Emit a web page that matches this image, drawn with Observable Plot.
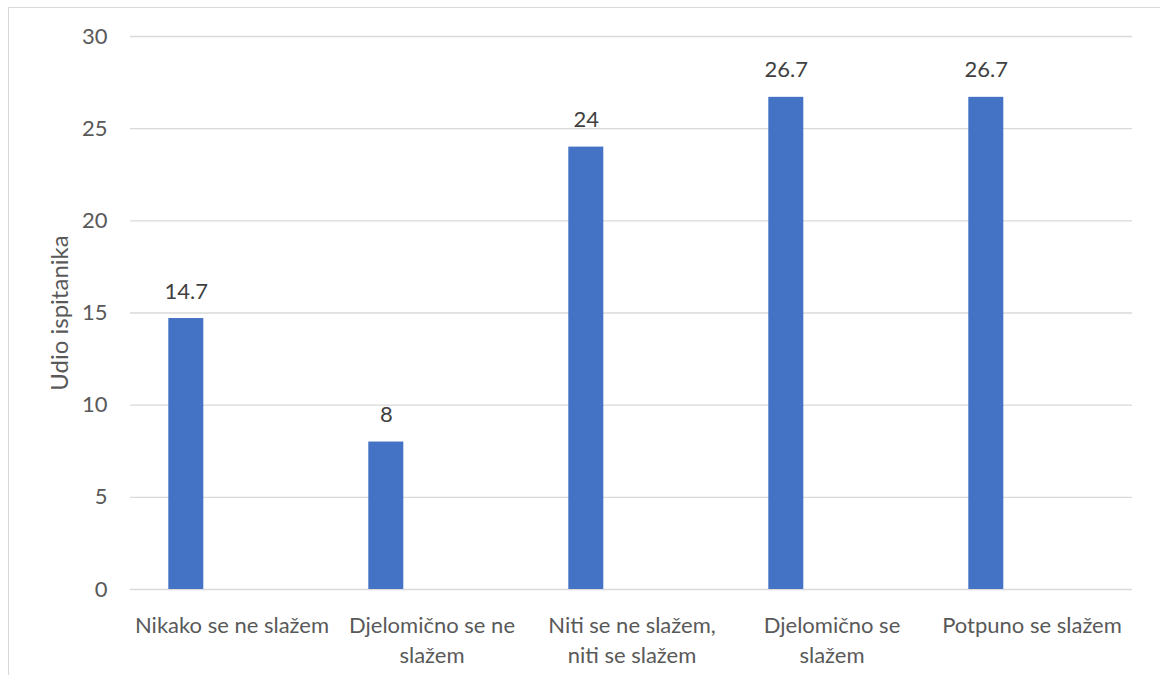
<!DOCTYPE html>
<html>
<head>
<meta charset="utf-8">
<script src="https://cdn.jsdelivr.net/npm/d3@7"></script>
<script src="https://cdn.jsdelivr.net/npm/@observablehq/plot@0.6"></script>
<style>
  html, body { margin: 0; padding: 0; background: #fff; }
  #wrap { position: relative; width: 1160px; height: 675px; overflow: hidden; }
  #frame { position: absolute; left: 8px; top: 7px; width: 1200px; height: 720px; border: 1.5px solid #d9d9d9; box-sizing: border-box; }
  #chart { position: absolute; left: 0; top: 0; }
</style>
</head>
<body>
<div id="wrap"><div id="frame"></div><div id="chart"></div></div>
<script>
const categories = ["Nikako se ne slažem", "Djelomično se ne slažem", "Niti se ne slažem, niti se slažem", "Djelomično se slažem", "Potpuno se slažem"];
const tickLabels = ["Nikako se ne slažem", "Djelomično se ne\nslažem", "Niti se ne slažem,\nniti se slažem", "Djelomično se\nslažem", "Potpuno se slažem"];
const values = [14.7, 8, 24, 26.7, 26.7];
const yTicks = [0, 5, 10, 15, 20, 25, 30];
const yTitle = "Udio ispitanika";

const data = categories.map((c, i) => ({category: c, value: values[i]}));
const labelOf = new Map(categories.map((c, i) => [c, tickLabels[i]]));

const chart = Plot.plot({
  width: 1160,
  height: 675,
  marginTop: 36,
  marginBottom: 86,
  marginLeft: 130,
  marginRight: 28,
  style: {fontFamily: "Lato, 'Open Sans', sans-serif", fontSize: "22px", background: "transparent"},
  x: {domain: categories, paddingInner: 0.8253, paddingOuter: 0.41265, label: null},
  y: {domain: [0, 30], label: null},
  marks: [
    Plot.gridY(yTicks, {stroke: "#d9d9d9", strokeOpacity: 1, strokeWidth: 1.4}),
    Plot.barY(data, {x: "category", y: "value", fill: "#4472c4", dx: -45.7}),
    Plot.text(data, {x: "category", y: "value", text: d => String(d.value), dx: -45.7, dy: -27, fill: "#404040", fontSize: 22, lineAnchor: "middle"}),
    Plot.axisY({ticks: yTicks, tickSize: 0, tickPadding: 23, fill: "#595959", fontSize: 22, label: null}),
    Plot.axisX({tickSize: 0, tickPadding: 22, tickFormat: d => labelOf.get(d), fill: "#595959", fontSize: 22, lineHeight: 1.364, lineAnchor: "top", label: null}),
    Plot.text([yTitle], {frameAnchor: "left", dx: -70, rotate: -90, textAnchor: "middle", lineAnchor: "middle", fill: "#595959", fontSize: 24})
  ]
});
document.getElementById("chart").appendChild(chart);
</script>
</body>
</html>
